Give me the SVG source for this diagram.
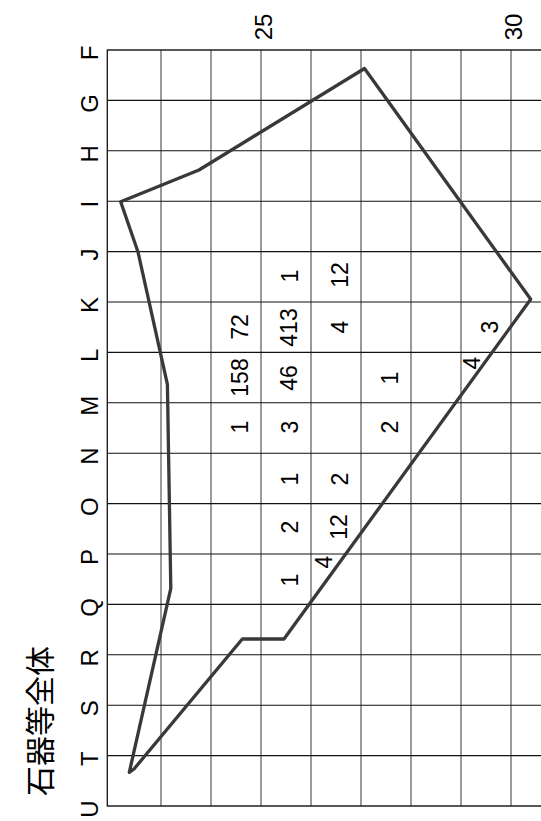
<svg xmlns="http://www.w3.org/2000/svg" width="541" height="821" viewBox="0 0 541 821">
<style>
.bg{fill:#fff}
.h{stroke:#111;stroke-width:1.1;fill:none}
.v{stroke:#707070;stroke-width:1.4;fill:none}
.b{stroke:#222;stroke-width:1.4;fill:none}
.t{font-family:"Liberation Sans",Arial,sans-serif;font-size:23px;fill:#000;text-anchor:middle;dominant-baseline:central}
.lab{font-size:24px}
.ttl{font-family:"Noto Sans CJK JP","Noto Sans CJK SC",sans-serif;font-size:30px;fill:#000;text-anchor:middle;dominant-baseline:central}
.poly{fill:none;stroke:#3a3838;stroke-width:3.3;stroke-linejoin:round;stroke-linecap:round}
</style>
<rect class="bg" width="541" height="821"/>
<g id="grid">
<path class="v" d="M161,50V806M211,50V806M261,50V806M311,50V806M361,50V806M411,50V806M461,50V806M511,50V806"/>
<path class="h" d="M107.3,100.4H541M107.3,150.8H541M107.3,201.2H541M107.3,251.6H541M107.3,302H541M107.3,352.4H541M107.3,402.8H541M107.3,453.2H541M107.3,503.6H541M107.3,554H541M107.3,604.4H541M107.3,654.8H541M107.3,705.2H541M107.3,755.6H541"/>
<path class="b" d="M541,50H107.3V806H541"/>
</g>
<g id="row-labels">
<text class="t lab" transform="translate(89,53) rotate(-90)">F</text>
<text class="t lab" transform="translate(89,103.4) rotate(-90)">G</text>
<text class="t lab" transform="translate(89,153.8) rotate(-90)">H</text>
<text class="t lab" transform="translate(89,204.2) rotate(-90)">I</text>
<text class="t lab" transform="translate(89,254.6) rotate(-90)">J</text>
<text class="t lab" transform="translate(89,305) rotate(-90)">K</text>
<text class="t lab" transform="translate(89,355.4) rotate(-90)">L</text>
<text class="t lab" transform="translate(89,405.8) rotate(-90)">M</text>
<text class="t lab" transform="translate(89,456.2) rotate(-90)">N</text>
<text class="t lab" transform="translate(89,506.6) rotate(-90)">O</text>
<text class="t lab" transform="translate(89,557) rotate(-90)">P</text>
<text class="t lab" transform="translate(89,607.4) rotate(-90)">Q</text>
<text class="t lab" transform="translate(89,657.8) rotate(-90)">R</text>
<text class="t lab" transform="translate(89,708.2) rotate(-90)">S</text>
<text class="t lab" transform="translate(89,758.6) rotate(-90)">T</text>
<text class="t lab" transform="translate(89,809) rotate(-90)">U</text>
</g>
<g id="col-labels">
<text class="t lab" transform="translate(263,27) rotate(-90)">25</text>
<text class="t lab" transform="translate(513,27) rotate(-90)">30</text>
</g>
<g id="title">
<text class="ttl" transform="translate(38,721) rotate(-90)">石器等全体</text>
</g>
<g id="outline">
<polygon class="poly" points="364.5,68.5 199,170 120.7,201.7 138,252 167.4,384.3 170.8,588.3 129.3,772.3 134,769 242.3,639 284,639 530.7,299.3"/>
</g>
<g id="values">
<text class="t" transform="translate(290,276) rotate(-90)">1</text>
<text class="t" transform="translate(340,275) rotate(-90)">12</text>
<text class="t" transform="translate(240,327) rotate(-90)">72</text>
<text class="t" transform="translate(289,327.5) rotate(-90)">413</text>
<text class="t" transform="translate(340,327) rotate(-90)">4</text>
<text class="t" transform="translate(490,327) rotate(-90)">3</text>
<text class="t" transform="translate(240,377.5) rotate(-90)">158</text>
<text class="t" transform="translate(289,378) rotate(-90)">46</text>
<text class="t" transform="translate(390,378) rotate(-90)">1</text>
<text class="t" transform="translate(472,363) rotate(-90)">4</text>
<text class="t" transform="translate(240,427) rotate(-90)">1</text>
<text class="t" transform="translate(290,427) rotate(-90)">3</text>
<text class="t" transform="translate(390,427) rotate(-90)">2</text>
<text class="t" transform="translate(290,479) rotate(-90)">1</text>
<text class="t" transform="translate(340,479) rotate(-90)">2</text>
<text class="t" transform="translate(290,527) rotate(-90)">2</text>
<text class="t" transform="translate(339,527) rotate(-90)">12</text>
<text class="t" transform="translate(290,580) rotate(-90)">1</text>
<text class="t" transform="translate(324,562) rotate(-90)">4</text>
</g>
</svg>
